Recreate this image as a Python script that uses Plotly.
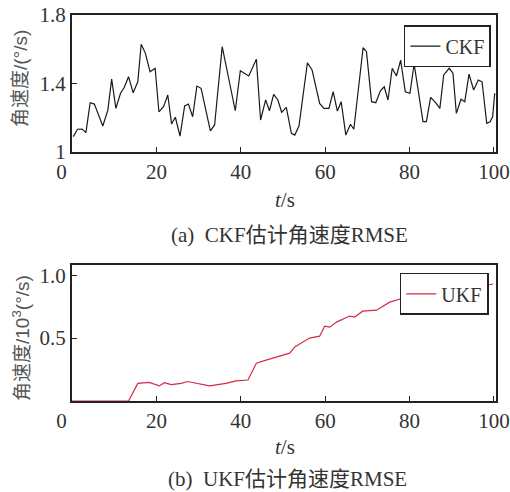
import plotly.graph_objects as go

# CKF series (top)
ckf_t = [0.3, 1.3, 2.4, 3.3, 4.3, 5.3, 7.3, 8.5, 9.4, 10.4, 11.5, 12.4, 13.4, 14.5, 15.6, 16.4,
         17.4, 18.5, 19.7, 20.6, 21.7, 22.7, 23.6, 24.5, 25.6, 26.7, 27.6, 28.6, 29.6, 30.6, 32.8,
         33.8, 35.6, 37.5, 38.7, 39.9, 41.9, 43.7, 44.7, 45.9, 46.8, 47.8, 48.8, 49.7, 50.8, 52.0,
         52.8, 53.8, 55.8, 56.9, 58.7, 59.7, 60.9, 61.9, 62.9, 63.8, 64.9, 66.0, 66.8, 69.0, 69.8,
         71.0, 72.0, 73.1, 74.0, 74.9, 75.9, 76.9, 77.9, 79.0, 80.1, 81.1, 83.2, 84.0, 85.0, 86.2,
         87.2, 88.1, 89.4, 90.3, 91.1, 92.2, 93.1, 94.1, 95.2, 96.3, 97.2, 98.3, 99.1, 99.7, 100.2]
ckf_v = [1.09, 1.133, 1.134, 1.113, 1.288, 1.28, 1.152, 1.245, 1.426, 1.255, 1.343, 1.378, 1.44,
         1.346, 1.41, 1.629, 1.576, 1.469, 1.489, 1.235, 1.265, 1.333, 1.164, 1.203, 1.093, 1.269,
         1.28, 1.206, 1.385, 1.372, 1.124, 1.158, 1.615, 1.381, 1.241, 1.475, 1.444, 1.541, 1.187,
         1.304, 1.241, 1.337, 1.304, 1.232, 1.261, 1.109, 1.099, 1.152, 1.521, 1.479, 1.284, 1.255,
         1.255, 1.352, 1.239, 1.294, 1.099, 1.162, 1.133, 1.609, 1.586, 1.294, 1.288, 1.358, 1.381,
         1.304, 1.489, 1.444, 1.537, 1.352, 1.343, 1.514, 1.177, 1.177, 1.319, 1.288, 1.255, 1.45,
         1.489, 1.46, 1.226, 1.308, 1.294, 1.455, 1.362, 1.42, 1.41, 1.168, 1.177, 1.206, 1.343]

# UKF series (bottom), unit 10^3 deg/s
ukf_t = [0, 13.4, 15.6, 18.3, 20.7, 21.9, 23.5, 25.9, 27.4, 29.4, 32.6, 36.5, 38.9, 41.7, 43.7,
         46.0, 49.2, 51.6, 52.8, 56.3, 58.7, 59.9, 61.1, 62.7, 65.8, 67.0, 68.9, 72.2, 75.3, 78.4,
         80.0, 81.7, 85.5, 90.0, 95.0, 99.8]
ukf_v = [0, 0, 0.14, 0.148, 0.12, 0.145, 0.13, 0.14, 0.155, 0.14, 0.12, 0.14, 0.16, 0.167, 0.30,
         0.325, 0.357, 0.38, 0.43, 0.50, 0.515, 0.595, 0.587, 0.627, 0.675, 0.667, 0.714, 0.722,
         0.786, 0.817, 0.825, 0.84, 0.84, 0.87, 0.90, 0.93]

x_ticks = [0, 20, 40, 60, 80, 100]
x_ticktext = ["0\u00a0\u00a0\u00a0\u00a0", "20", "40", "60", "80", "100"]
top_yticks = [1.0, 1.4, 1.8]
top_yticktext = ["1", "1.4", "1.8"]
bot_yticks = [0.5, 1.0]
bot_yticktext = ["0.5", "1.0"]

SERIF = "Liberation Serif, Times New Roman, Noto Sans CJK SC, serif"
SANS = "Liberation Sans, Arial, Noto Sans CJK SC, sans-serif"
TXT = "#333333"

fig = go.Figure()
fig.add_trace(go.Scatter(x=ckf_t, y=ckf_v, mode="lines", name="CKF",
                         line=dict(color="#1a1a1a", width=1.2), xaxis="x", yaxis="y",
                         legend="legend"))
fig.add_trace(go.Scatter(x=ukf_t, y=ukf_v, mode="lines", name="UKF",
                         line=dict(color="#d42a4a", width=1.2), xaxis="x2", yaxis="y2",
                         legend="legend2"))

axis_common = dict(showline=True, linecolor="#222222", linewidth=2, mirror=True,
                   showgrid=False, zeroline=False, ticks="inside", ticklen=5,
                   tickcolor="#222222", automargin=False,
                   tickfont=dict(family=SERIF, size=21, color=TXT))

fig.update_layout(
    width=510, height=492,
    margin=dict(l=72, r=14, t=15, b=91, autoexpand=False),
    paper_bgcolor="white", plot_bgcolor="white",
    showlegend=True,
    xaxis=dict(domain=[0, 1], anchor="y", range=[0, 100.5], tickvals=x_ticks,
               ticktext=x_ticktext, **axis_common),
    yaxis=dict(domain=[0.645, 1], anchor="x", range=[1.0, 1.8], tickvals=top_yticks,
               ticktext=top_yticktext, **axis_common),
    xaxis2=dict(domain=[0, 1], anchor="y2", range=[0, 100.5], tickvals=x_ticks,
                ticktext=x_ticktext, **axis_common),
    yaxis2=dict(domain=[0, 0.352], anchor="x2", range=[0, 1.08], tickvals=bot_yticks,
                ticktext=bot_yticktext, **axis_common),
    legend=dict(x=0.988, y=0.974, xanchor="right", yanchor="top", bgcolor="white",
                bordercolor="#222222", borderwidth=1.5, itemwidth=30,
                font=dict(family=SERIF, size=20, color=TXT)),
    legend2=dict(x=0.983, y=0.332, xanchor="right", yanchor="top", bgcolor="white",
                 bordercolor="#222222", borderwidth=1.5, itemwidth=30,
                 font=dict(family=SERIF, size=20, color=TXT)),
)

annots = [
    dict(text="角速度/(°/s)", x=20, y=79, textangle=-90, size=19, color="#555555", fam=SANS),
    dict(text="角速度/10<sup>3</sup>(°/s)", x=21, y=338, textangle=-90, size=19, color="#555555", fam=SANS),
    dict(text="<i>t</i>/s", x=285, y=200, textangle=0, size=21, color=TXT, fam=SERIF),
    dict(text="<i>t</i>/s", x=285, y=447, textangle=0, size=21, color=TXT, fam=SERIF),
    dict(text="(a)  CKF估计角速度RMSE", x=289, y=235, textangle=0, size=21, color=TXT, fam=SERIF),
    dict(text="(b)  UKF估计角速度RMSE", x=287, y=479, textangle=0, size=21, color=TXT, fam=SERIF),
]
for a in annots:
    # convert pixel positions to paper coordinates
    px = (a["x"] - 72) / (510 - 72 - 14)
    py = (492 - 91 - a["y"]) / (492 - 15 - 91)
    fig.add_annotation(text=a["text"], x=px, y=py, xref="paper", yref="paper",
                       xanchor="center", yanchor="middle", showarrow=False,
                       textangle=a["textangle"],
                       font=dict(family=a["fam"], size=a["size"], color=a["color"]))

fig.write_html("out.html", config={"displayModeBar": False},
               post_script="document.body.style.margin='0';document.body.style.overflow='hidden';")
